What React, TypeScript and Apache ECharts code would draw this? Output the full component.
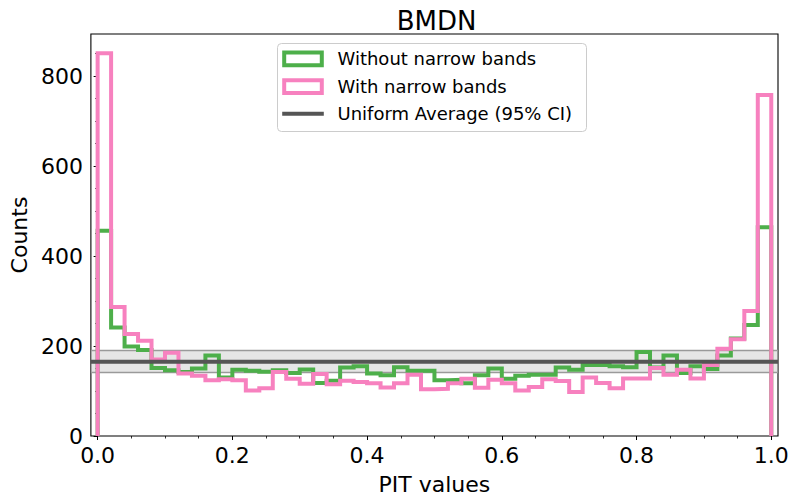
import React, { useEffect, useRef } from "react";
import * as echarts from "echarts";

const TITLE = "BMDN";
const X_LABEL = "PIT values";
const Y_LABEL = "Counts";
const SERIES_NAMES = ["Without narrow bands", "With narrow bands", "Uniform Average (95% CI)"];

const BIN_START = 0;
const BIN_END = 1;

const withoutNarrow = [
  456, 241, 199, 191, 151, 146, 142, 150, 179, 130,
  147, 145, 143, 146, 140, 148, 118, 123, 152, 155,
  139, 135, 153, 145, 145, 124, 125, 117, 135, 150,
  127, 134, 136, 136, 152, 147, 158, 158, 155, 153,
  187, 152, 179, 140, 155, 149, 179, 217, 247, 464,
];

const withNarrow = [
  851, 287, 227, 212, 170, 185, 139, 134, 124, 126,
  124, 101, 106, 142, 127, 116, 138, 115, 123, 120,
  117, 108, 117, 136, 104, 105, 117, 127, 107, 125,
  117, 101, 109, 126, 122, 98, 130, 118, 106, 128,
  128, 151, 136, 147, 128, 158, 194, 215, 278, 758,
];

const UNIFORM_MEAN = 165;
const UNIFORM_LO = 141;
const UNIFORM_HI = 190;

const X_MIN = -0.01;
const X_MAX = 1.01;
const Y_MIN = 0;
const Y_MAX = 893.6;

const X_MAJOR = [0, 0.2, 0.4, 0.6, 0.8, 1.0];
const X_MINOR = [0.05, 0.1, 0.15, 0.25, 0.3, 0.35, 0.45, 0.5, 0.55, 0.65, 0.7, 0.75, 0.85, 0.9, 0.95];
const Y_MAJOR = [0, 200, 400, 600, 800];
const Y_MINOR = [50, 100, 150, 250, 300, 350, 450, 500, 550, 650, 700, 750, 850];

const GREEN = "#4daf4a";
const PINK = "#f781bf";
const GRAY = "#555555";
const FONT = "DejaVu Sans";

function stepPoints(counts: number[]): number[][] {
  const n = counts.length;
  const w = (BIN_END - BIN_START) / n;
  const pts: number[][] = [[BIN_START, 0]];
  for (let i = 0; i < n; i++) {
    const a = BIN_START + i * w;
    const b = BIN_START + (i + 1) * w;
    pts.push([a, counts[i]], [b, counts[i]]);
  }
  pts.push([BIN_END, 0]);
  return pts;
}

export default function App() {
  const ref = useRef<HTMLDivElement>(null);
  useEffect(() => {
    if (!ref.current) return;
    const chart = echarts.init(ref.current, null, { renderer: "svg" });
    const GL = 85, GT = 34, GR = 19, GB = 63;
    const gridCenterX = GL + (797 - GL - GR) / 2;
    const option: any = {
      animation: false,
      backgroundColor: "#ffffff",
      textStyle: { fontFamily: FONT },
      title: {
        text: TITLE,
        left: gridCenterX,
        textAlign: "center",
        top: 3,
        textStyle: { fontFamily: FONT, fontSize: 26, fontWeight: "normal", color: "#000" },
      },
      grid: {
        left: GL, top: GT, right: GR, bottom: GB,
        show: true, borderColor: "#000", borderWidth: 1.1, backgroundColor: "transparent",
      },
      xAxis: [
        {
          type: "value", min: X_MIN, max: X_MAX, gridIndex: 0,
          name: X_LABEL, nameLocation: "middle", nameGap: 37,
          nameTextStyle: { fontFamily: FONT, fontSize: 22, color: "#000" },
          axisLine: { show: false },
          splitLine: { show: false },
          axisTick: { show: true, customValues: X_MAJOR, length: 4, lineStyle: { color: "#000", width: 1 } },
          axisLabel: {
            show: true, customValues: X_MAJOR, margin: 8,
            formatter: (v: number) => v.toFixed(1),
            fontFamily: FONT, fontSize: 22, color: "#000",
          },
        },
        {
          type: "value", min: X_MIN, max: X_MAX, gridIndex: 0, position: "bottom",
          axisLine: { show: false },
          splitLine: { show: false },
          axisTick: { show: true, customValues: X_MINOR, length: 2.5, lineStyle: { color: "#000", width: 0.8 } },
          axisLabel: { show: false },
        },
      ],
      yAxis: [
        {
          type: "value", min: Y_MIN, max: Y_MAX, gridIndex: 0,
          name: Y_LABEL, nameLocation: "middle", nameGap: 54, nameRotate: 90,
          nameTextStyle: { fontFamily: FONT, fontSize: 22, color: "#000" },
          axisLine: { show: false },
          splitLine: { show: false },
          axisTick: { show: true, customValues: Y_MAJOR, length: 4, lineStyle: { color: "#000", width: 1 } },
          axisLabel: {
            show: true, customValues: Y_MAJOR, margin: 8,
            formatter: (v: number) => String(Math.round(v)),
            fontFamily: FONT, fontSize: 22, color: "#000",
          },
        },
        {
          type: "value", min: Y_MIN, max: Y_MAX, gridIndex: 0, position: "left",
          axisLine: { show: false },
          splitLine: { show: false },
          axisTick: { show: true, customValues: Y_MINOR, length: 2.5, lineStyle: { color: "#000", width: 0.8 } },
          axisLabel: { show: false },
        },
      ],
      series: [
        {
          name: "band",
          type: "line",
          xAxisIndex: 0, yAxisIndex: 0,
          data: [[X_MIN, UNIFORM_LO], [X_MAX, UNIFORM_LO]],
          showSymbol: false, silent: true,
          lineStyle: { color: "#9a9a9a", width: 1.6 },
          z: 1,
          markArea: {
            silent: true,
            itemStyle: { color: "rgba(200,200,200,0.45)" },
            data: [[{ yAxis: UNIFORM_LO }, { yAxis: UNIFORM_HI }]],
          },
        },
        {
          name: "bandHi",
          type: "line",
          xAxisIndex: 0, yAxisIndex: 0,
          data: [[X_MIN, UNIFORM_HI], [X_MAX, UNIFORM_HI]],
          showSymbol: false, silent: true,
          lineStyle: { color: "#9a9a9a", width: 1.6 },
          z: 1,
        },
        {
          name: SERIES_NAMES[0],
          type: "line",
          xAxisIndex: 0, yAxisIndex: 0,
          data: stepPoints(withoutNarrow),
          showSymbol: false,
          lineStyle: { color: GREEN, width: 4, join: "miter" },
          z: 2,
        },
        {
          name: SERIES_NAMES[1],
          type: "line",
          xAxisIndex: 0, yAxisIndex: 0,
          data: stepPoints(withNarrow),
          showSymbol: false,
          lineStyle: { color: PINK, width: 4, join: "miter" },
          z: 3,
        },
        {
          name: SERIES_NAMES[2],
          type: "line",
          xAxisIndex: 0, yAxisIndex: 0,
          data: [[X_MIN, UNIFORM_MEAN], [X_MAX, UNIFORM_MEAN]],
          showSymbol: false,
          lineStyle: { color: GRAY, width: 4 },
          z: 4,
        },
      ],
      graphic: [
        {
          type: "group",
          left: 277, top: 43,
          z: 100,
          children: [
            {
              type: "rect",
              shape: { x: 0, y: 0, width: 309, height: 88, r: 4 },
              style: { fill: "rgba(255,255,255,0.85)", stroke: "#cccccc", lineWidth: 1 },
            },
            {
              type: "rect",
              shape: { x: 6.7, y: 9, width: 37.6, height: 12.7 },
              style: { fill: "none", stroke: GREEN, lineWidth: 4 },
            },
            {
              type: "rect",
              shape: { x: 6.7, y: 36.7, width: 37.6, height: 12.7 },
              style: { fill: "none", stroke: PINK, lineWidth: 4 },
            },
            {
              type: "line",
              shape: { x1: 4.7, y1: 70.3, x2: 46.3, y2: 70.3 },
              style: { stroke: GRAY, lineWidth: 4 },
            },
            {
              type: "text", x: 60, y: 15.3,
              style: { text: SERIES_NAMES[0], fontFamily: FONT, fontSize: 18, fill: "#000", verticalAlign: "middle", align: "left" },
            },
            {
              type: "text", x: 60, y: 43,
              style: { text: SERIES_NAMES[1], fontFamily: FONT, fontSize: 18, fill: "#000", verticalAlign: "middle", align: "left" },
            },
            {
              type: "text", x: 60, y: 70.3,
              style: { text: SERIES_NAMES[2], fontFamily: FONT, fontSize: 18, fill: "#000", verticalAlign: "middle", align: "left" },
            },
          ],
        },
      ],
    };
    chart.setOption(option);
    return () => chart.dispose();
  }, []);
  return (
    <div
      ref={ref}
      style={{ position: "fixed", left: 0, top: 0, width: 797, height: 500, background: "#fff" }}
    />
  );
}
